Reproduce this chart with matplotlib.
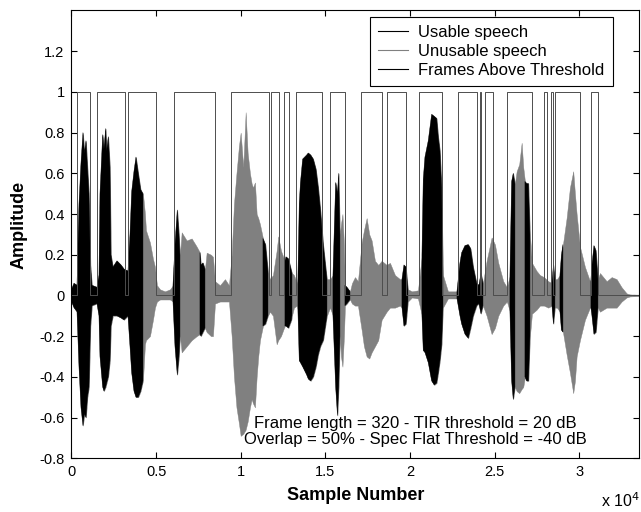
import numpy as np
import matplotlib
matplotlib.use('Agg')
import matplotlib.pyplot as plt
from matplotlib.lines import Line2D

plt.rcParams['font.family'] = ['Liberation Sans', 'DejaVu Sans']

# waveform envelope: sample index, upper and lower peak
env_x = [0, 148, 325, 443, 561, 679, 768, 857, 945, 1034, 1122, 1211, 1506, 1624, 1683, 1843, 1920, 2020, 2079, 2174,
         2274, 2333, 2451, 2688, 2924, 3101, 3337, 3456, 3556, 3692, 3810, 3946, 4088, 4223,
         4342, 4401, 4637, 4814, 4932, 5050, 5228, 5523, 5818, 5996,
         6114, 6250, 6350, 6409,
         6510, 6805, 7100, 7396, 7590,
         7650, 7768, 7886,
         7986, 8240, 8358, 8477, 8772, 9067, 9304, 9463, 9599, 9747, 9894, 9995, 10148, 10290, 10408, 10544,
         10644, 10721, 10839, 10940, 11034, 11135, 11312,
         11460, 11607,
         11725, 11903, 12121, 12215, 12375, 12553, 12611,
         12671, 12818, 12995, 13025,
         13143, 13320, 13379,
         13456, 13527, 13657, 13893, 13988, 14130, 14283, 14443, 14578, 14708, 14874, 15092,
         15270, 15447,
         15606, 15713, 15784, 15860,
         15920, 16008, 16097, 16156,
         16274, 16451,
         16570, 16746, 16924, 17142, 17278, 17437, 17592, 17733, 17928, 18123, 18323, 18619, 18814, 19110, 19405, 19523,
         19641, 19759, 19877,
         20113, 20469, 20704,
         20781, 20881, 21076, 21277, 21431, 21573, 21667, 21768, 21868, 21945,
         22240, 22595, 22772,
         22949, 23049, 23245, 23440, 23580, 23734, 23935, 24071, 24190, 24308,
         24525, 24820, 25017, 25213, 25507, 25722, 25902,
         26002, 26097, 26197,
         26299, 26452, 26594, 26689, 26789,
         26889, 26995, 27084,
         27202, 27479, 27675, 27911, 28165, 28383,
         28471, 28560,
         28675, 28856,
         28944, 29033,
         29250, 29447, 29641, 29742, 29842, 30038, 30333, 30628, 30687,
         30746, 30864, 30982, 31101,
         31219, 31614, 31910, 32205, 32500, 32796, 32991, 33523]
env_hi = [0.03, 0.06, 0.05, 0.45, 0.65, 0.80, 0.70, 0.76, 0.63, 0.50, 0.15, 0.05, 0.04, 0.10, 0.50, 0.79, 0.72, 0.82, 0.71, 0.78,
          0.63, 0.20, 0.14, 0.17, 0.15, 0.13, 0.12, 0.30, 0.51, 0.61, 0.68, 0.60, 0.52, 0.50,
          0.40, 0.32, 0.26, 0.18, 0.14, 0.05, 0.03, 0.02, 0.03, 0.05,
          0.25, 0.42, 0.30, 0.20,
          0.31, 0.27, 0.28, 0.24, 0.21,
          0.15, 0.16, 0.13,
          0.21, 0.20, 0.19, 0.07, 0.05, 0.08, 0.05, 0.20, 0.45, 0.60, 0.735, 0.80, 0.63, 0.90, 0.70, 0.60,
          0.55, 0.53, 0.555, 0.40, 0.38, 0.35, 0.28,
          0.25, 0.12,
          0.08, 0.10, 0.22, 0.29, 0.22, 0.18, 0.17,
          0.19, 0.18, 0.12, 0.11,
          0.10, 0.06, 0.10,
          0.45, 0.555, 0.67, 0.69, 0.70, 0.69, 0.67, 0.62, 0.53, 0.42, 0.25, 0.08,
          0.08, 0.10,
          0.555, 0.50, 0.60, 0.30,
          0.35, 0.40, 0.25, 0.05,
          0.04, 0.02,
          0.06, 0.09, 0.07, 0.26, 0.32, 0.38, 0.30, 0.27, 0.17, 0.15, 0.17, 0.15, 0.16, 0.10, 0.08, 0.08,
          0.15, 0.14, 0.03,
          0.02, 0.025, 0.20,
          0.57, 0.68, 0.76, 0.89, 0.88, 0.87, 0.78, 0.71, 0.53, 0.10,
          0.02, 0.02, 0.02,
          0.16, 0.21, 0.245, 0.25, 0.23, 0.14, 0.06, 0.05, 0.11, 0.06,
          0.17, 0.285, 0.25, 0.16, 0.07, 0.04, 0.10,
          0.56, 0.60, 0.55,
          0.61, 0.645, 0.75, 0.63, 0.56,
          0.55, 0.55, 0.30,
          0.16, 0.12, 0.10, 0.09, 0.07, 0.06,
          0.15, 0.08,
          0.08, 0.10,
          0.20, 0.25,
          0.38, 0.53, 0.61, 0.50, 0.40, 0.24, 0.14, 0.07, 0.08,
          0.15, 0.245, 0.22, 0.08,
          0.11, 0.07, 0.09, 0.08, 0.04, 0.01, 0.005, 0.003]
env_lo = [-0.03, -0.06, -0.08, -0.35, -0.55, -0.64, -0.58, -0.60, -0.50, -0.45, -0.15, -0.05, -0.04, -0.10, -0.30, -0.45,
          -0.47, -0.45, -0.43, -0.40, -0.32, -0.15, -0.10, -0.10, -0.11, -0.12, -0.10, -0.25, -0.38, -0.47, -0.50, -0.50,
          -0.47, -0.42,
          -0.24, -0.22, -0.20, -0.12, -0.06, -0.03, -0.02, -0.02, -0.02, -0.03,
          -0.25, -0.39, -0.30, -0.20,
          -0.28, -0.25, -0.22, -0.20, -0.19,
          -0.20, -0.18, -0.16,
          -0.18, -0.20, -0.20, -0.04, -0.03, -0.03, -0.03, -0.20, -0.40, -0.55, -0.63, -0.69, -0.68, -0.66, -0.62, -0.55,
          -0.51, -0.53, -0.55, -0.40, -0.30, -0.22, -0.15,
          -0.14, -0.10,
          -0.08, -0.10, -0.24, -0.22, -0.20, -0.16, -0.15,
          -0.15, -0.16, -0.12, -0.10,
          -0.06, -0.05, -0.08,
          -0.32, -0.33, -0.35, -0.39, -0.41, -0.42, -0.40, -0.35, -0.29, -0.25, -0.22, -0.10,
          -0.06, -0.10,
          -0.45, -0.59, -0.45, -0.20,
          -0.30, -0.35, -0.20, -0.05,
          -0.04, -0.02,
          -0.04, -0.05, -0.05, -0.17, -0.25, -0.30, -0.31, -0.28, -0.25, -0.22, -0.12, -0.08, -0.06, -0.06, -0.05, -0.06,
          -0.15, -0.14, -0.03,
          -0.01, -0.015, -0.10,
          -0.27, -0.28, -0.33, -0.42, -0.44, -0.43, -0.38, -0.32, -0.24, -0.06,
          -0.015, -0.015, -0.015,
          -0.10, -0.14, -0.19, -0.21, -0.16, -0.10, -0.05, -0.04, -0.09, -0.05,
          -0.10, -0.19, -0.16, -0.10, -0.05, -0.03, -0.08,
          -0.42, -0.51, -0.45,
          -0.47, -0.48, -0.46, -0.45, -0.40,
          -0.42, -0.42, -0.20,
          -0.09, -0.07, -0.05, -0.05, -0.06, -0.05,
          -0.14, -0.06,
          -0.06, -0.08,
          -0.17, -0.18,
          -0.29, -0.38, -0.48, -0.42, -0.30, -0.22, -0.12, -0.06, -0.06,
          -0.10, -0.19, -0.18, -0.06,
          -0.08, -0.06, -0.06, -0.06, -0.03, -0.01, -0.005, -0.003]

# stretches of usable speech (black), the rest is unusable (grey)
usable_start = [0, 5996, 7590, 11312, 12611, 13379, 15447, 16156, 19523, 20704, 22772, 25902, 26789, 28383, 28856, 30687]
usable_end = [4223, 6409, 7886, 11607, 13025, 15092, 15860, 16451, 19877, 21945, 24308, 26197, 27084, 28560, 29033, 31101]

# frames above threshold (rising / falling edges)
frame_on = [310, 1480, 3340, 6070, 9400, 11800, 12570, 13280, 15270, 17130, 18660, 20540, 22840, 24130, 24400, 25710,
            27940, 28350, 28590, 30690]
frame_off = [1110, 3190, 4970, 8480, 11650, 12270, 12830, 14800, 16160, 18340, 19790, 21900, 23950, 24220, 24900, 27180,
             28120, 28440, 30040, 31120]

x_ticks = [0, 5000, 10000, 15000, 20000, 25000, 30000]
x_ticklabels = ['0', '0.5', '1', '1.5', '2', '2.5', '3']
y_ticks = [-0.8, -0.6, -0.4, -0.2, 0, 0.2, 0.4, 0.6, 0.8, 1, 1.2]
x_max = 33550

fig = plt.figure(figsize=(6.41, 5.12), dpi=100)
ax = fig.add_axes([0.1115, 0.105, 0.886, 0.8745])

x = np.array(env_x)
hi = np.array(env_hi)
lo = np.array(env_lo)
ax.fill_between(x, lo, hi, color='0.5', lw=0.3, edgecolor='0.5')
mask = np.zeros(len(x), dtype=bool)
for s, e in zip(usable_start, usable_end):
    mask |= (x >= s) & (x <= e)
ax.fill_between(x, lo, hi, where=mask, color='k', lw=0.3, edgecolor='k')

# step signal for frames
fx = [0]
fy = [0]
for on, off in zip(frame_on, frame_off):
    fx += [on, on, off, off]
    fy += [0, 1, 1, 0]
fx.append(x_max)
fy.append(0)
ax.plot(fx, fy, color='0.3', lw=0.7)

ax.set_xlim(0, x_max)
ax.set_ylim(-0.8, 1.4)
ax.set_xticks(x_ticks)
ax.set_xticklabels(x_ticklabels)
ax.set_yticks(y_ticks)
ax.set_yticklabels(['%g' % v for v in y_ticks])
ax.tick_params(direction='in', top=True, right=True, length=4, width=0.8, labelsize=10.5, pad=5)
for sp in ax.spines.values():
    sp.set_linewidth(0.8)

ax.set_xlabel('Sample Number', fontsize=13, fontweight='bold')
ax.set_ylabel('Amplitude', fontsize=13, fontweight='bold')
ax.xaxis.set_label_coords(0.5, -0.064)
ax.yaxis.set_label_coords(-0.078, 0.52)
fig.text(0.938, 0.010, r'x 10$^{4}$', fontsize=11.5)

ax.text(20290, -0.667, 'Frame length = 320 - TIR threshold = 20 dB\nOverlap = 50% - Spec Flat Threshold = -40 dB',
        ha='center', va='center', fontsize=12, linespacing=1.1)

handles = [Line2D([], [], color='k', lw=0.8),
           Line2D([], [], color='0.5', lw=0.8),
           Line2D([], [], color='k', lw=0.8)]
leg = ax.legend(handles, ['Usable speech', 'Unusable speech', 'Frames Above Threshold'],
                loc='upper right', bbox_to_anchor=(0.953, 0.9855), fontsize=12, fancybox=False,
                edgecolor='k', framealpha=1, borderaxespad=0, handlelength=1.8, handletextpad=0.6,
                labelspacing=0.22, borderpad=0.5)
leg.get_frame().set_linewidth(0.8)

fig.savefig('out.png', dpi=100)
